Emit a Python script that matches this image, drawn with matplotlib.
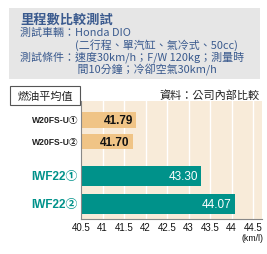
import matplotlib.pyplot as plt
from matplotlib.patches import Rectangle

plt.rcParams['font.family'] = ['Liberation Sans', 'Noto Sans CJK TC', 'DejaVu Sans']

# Datos
models = ['W20FS-U①', 'W20FS-U②', 'IWF22①', 'IWF22②']
values = [41.79, 41.70, 43.30, 44.07]
ticks = [40.5, 41, 41.5, 42, 42.5, 43, 43.5, 44, 44.5]

title = '里程數比較測試'
info_lines = ['測試車輛：Honda DIO',
              '　　　　　(二行程、單汽缸、氣冷式、50cc)',
              '測試條件：速度30km/h；F/W 120kg；測量時',
              '　　　　　 間10分鐘；冷卻空氣30km/h']
box_label = '燃油平均值'
source = '資料：公司內部比較'
unit = '(km/l)'

W, H = 267, 255
fig = plt.figure(figsize=(W / 100, H / 100), dpi=100)

def fx(px):
    return px / W

def fy(py):
    return 1 - py / H

cjk = ['Noto Sans CJK TC', 'DejaVu Sans']
blue = '#3a5a8e'

# Caja gris superior
fig.patches.append(Rectangle((fx(9), fy(80)), fx(251), 71 / H, transform=fig.transFigure,
                             facecolor='#e6e6e6', edgecolor='none', zorder=0))
fig.text(fx(20), fy(20), title, family=cjk, fontsize=9.5, fontweight='bold',
         color=blue, va='center')
for i, line in enumerate(info_lines):
    fig.text(fx(20), fy(33 + i * 12), line, family=cjk, fontsize=7.9,
             color=blue, va='center')

# Caja "燃油平均值"
fig.patches.append(Rectangle((fx(10), fy(106)), fx(70), 19 / H, transform=fig.transFigure,
                             facecolor='white', edgecolor='#555555', linewidth=0.8, zorder=3))
fig.text(fx(45), fy(96.5), box_label, family=cjk, fontsize=8, ha='center', va='center',
         color='#222222', zorder=4)
fig.text(fx(260), fy(96), source, family=cjk, fontsize=8, ha='right', va='center',
         color='#222222')

# Gráfica de barras
ax = fig.add_axes([fx(81), fy(220), fx(262 - 81), (220 - 102) / H])
ax.set_facecolor('#f8ebd9')
ax.set_xlim(40.5, 40.5 + (262 - 81) / 43)
ax.set_ylim(220, 102)

centers = [121, 142.5, 177, 205]
heights = [16, 15, 20, 20]
colors = ['#f0c486', '#f0c486', '#00928a', '#00928a']
txt_colors = ['#111111', '#111111', 'white', 'white']

for x in ticks[1:]:
    ax.axvline(x, color='white', linewidth=1, zorder=1)

ax.barh(centers, [v - 40.5 for v in values], left=40.5, height=heights,
        color=colors, zorder=2)
for c, v, tc in zip(centers, values, txt_colors):
    ax.text(v - 0.08, c, f'{v:.2f}', ha='right', va='center', color=tc,
            fontsize=8.5, fontweight='bold' if tc != 'white' else 'normal', zorder=3)

ax.set_xticks(ticks)
ax.set_xticklabels([f'{t:g}' for t in ticks], fontsize=7, color='#111111')
ax.tick_params(axis='x', length=0, pad=2.5)
ax.set_yticks([])
for s in ['top', 'right']:
    ax.spines[s].set_visible(False)
ax.spines['left'].set_color('#888888')
ax.spines['bottom'].set_color('#888888')

# Etiquetas de modelos
for i, (m, c) in enumerate(zip(models, centers)):
    if i < 2:
        fig.text(fx(78), fy(c), m, ha='right', va='center', fontsize=6.2,
                 fontweight='bold', color='#222222')
    else:
        fig.text(fx(78), fy(c), m, ha='right', va='center', fontsize=8.5,
                 fontweight='bold', color='#00928a')

fig.text(fx(263), fy(239), unit, ha='right', va='center', fontsize=6.3, color='#111111')

fig.savefig('out.png', dpi=100)
